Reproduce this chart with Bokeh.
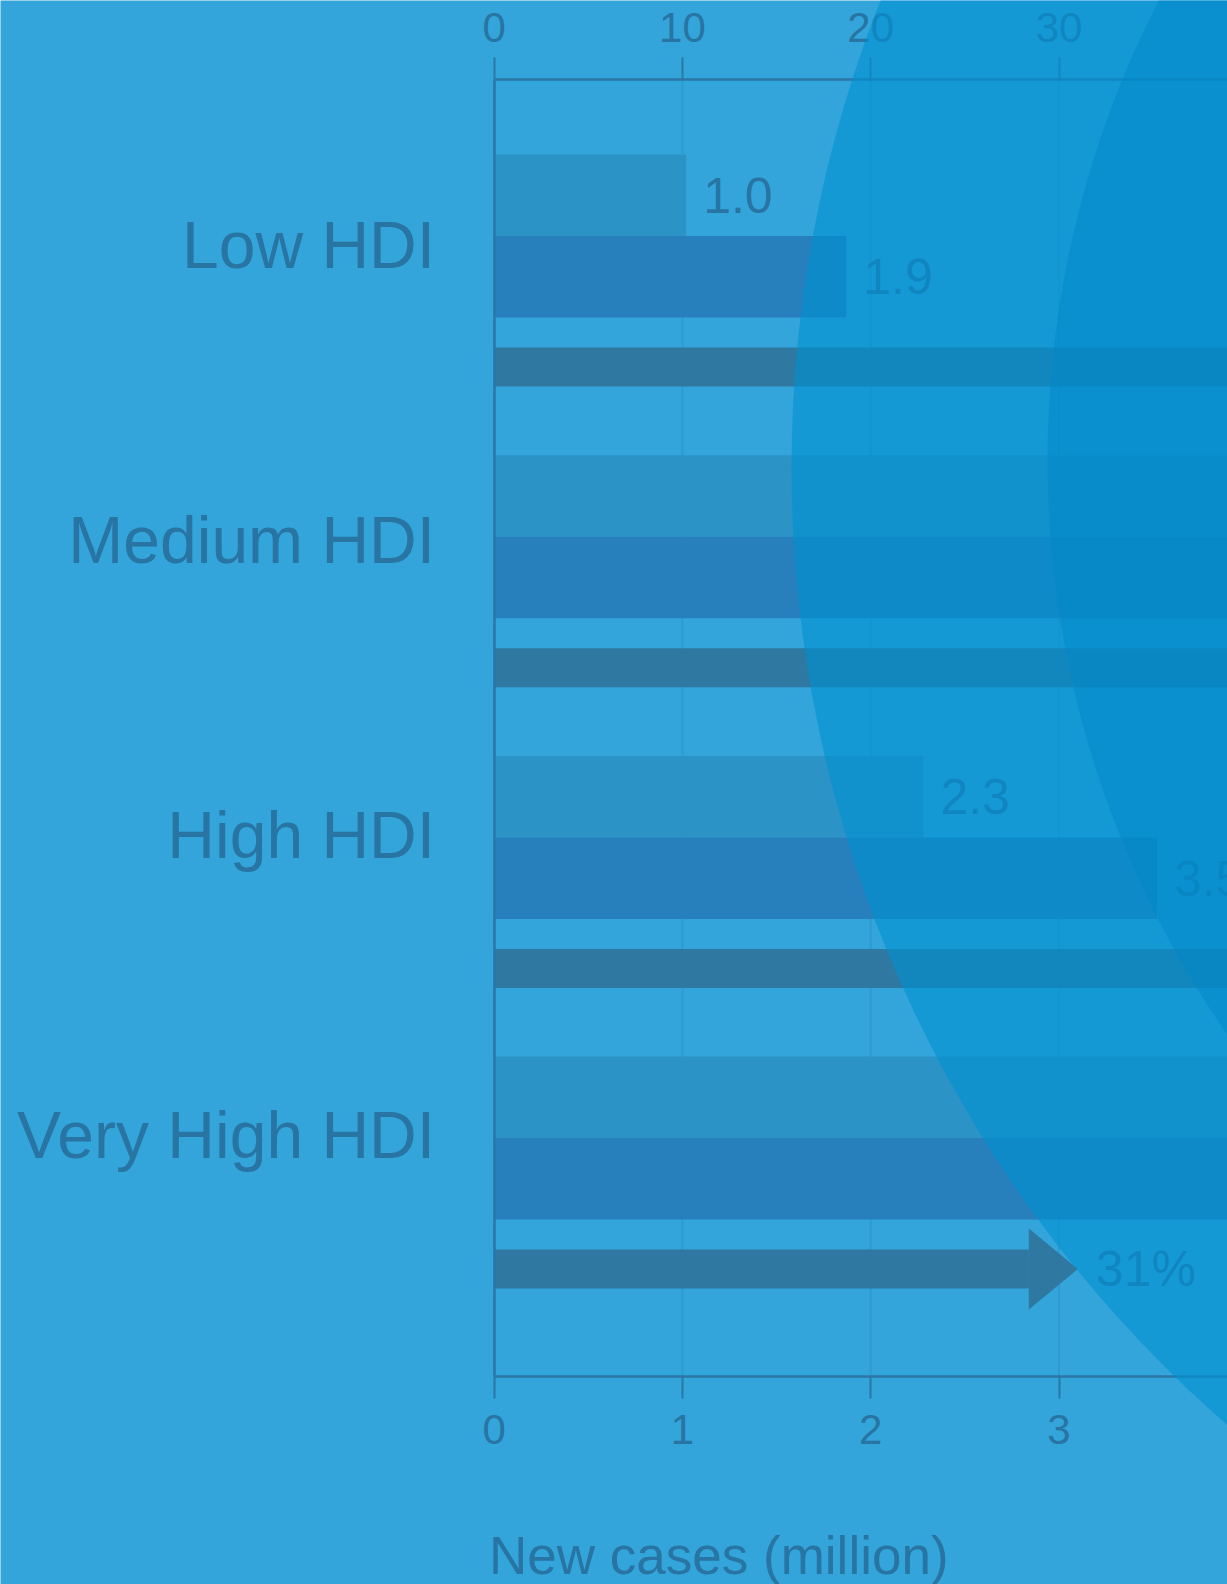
import math
from bokeh.plotting import figure
from bokeh.models import (Range1d, LinearAxis, FixedTicker, ColumnDataSource,
                          PolyAnnotation, Label)
from bokeh.core.properties import value
from bokeh.embed import file_html
from bokeh.resources import INLINE

# ---------------- data ----------------
categories = ["Low HDI", "Medium HDI", "High HDI", "Very High HDI"]
cases_2012 = [1.02, 4.7, 2.28, 5.9]     # million new cases (earlier year)
cases_2030 = [1.87, 8.0, 3.52, 7.7]     # million new cases (projection)
increase_pct = [83, 70, 54, 31]         # % increase (arrows, top axis)
case_ticks = [0, 1, 2, 3, 4, 5, 6, 7, 8]
pct_ticks = [0, 10, 20, 30, 40, 50, 60, 70, 80]
label_shift = [0.023, 0.003, -0.016, -0.018]   # fine vertical placement of category labels

# ---------------- style / layout ----------------
BG = "#33a5da"
LIGHT = "#2c93c6"
DARK = "#277fbc"
ARROW = "#2e78a1"
TEXT = "#2874a3"
AXIS = "#2b77a6"
GRID = "#2e9bd0"
FONT = "Liberation Sans"

W, H = 1227, 1584
X0 = 493.6          # canvas x of value 0
PX_X = 188.3        # px per million
Y0 = 238.0          # canvas y of first category centre
GROUP_PX = 300.7    # px per category group
AX_TOP_PX, AX_BOT_PX = 79.0, 1376.0


def dx(px):
    return (px - X0) / PX_X


def dy(py):
    return (py - Y0) / GROUP_PX


y_ax_top, y_ax_bot = dy(AX_TOP_PX), dy(AX_BOT_PX)

LIGHT_C, DARK_C, BAR_H = -0.1438, 0.1272, 0.271
ARROW_C, SHAFT_H, HEAD_HALF = 0.4273, 0.1297, 0.1347
HEAD_LEN = 49 / PX_X * 10  # in pct units

p = figure(width=W, height=H, x_range=Range1d(dx(0), dx(W)), y_range=Range1d(dy(H), dy(0)),
           output_backend="svg", toolbar_location=None,
           x_axis_location=None, y_axis_location=None,
           min_border=0, min_border_left=0, min_border_right=0, min_border_top=0,
           min_border_bottom=0, background_fill_color=BG,
           border_fill_color=BG, outline_line_color=None)
p.grid.visible = False
p.extra_x_ranges = {"pct": Range1d(dx(0) * 10, dx(W) * 10)}

# vertical grid lines between the two axes
p.segment(x0=case_ticks, x1=case_ticks, y0=[y_ax_top] * len(case_ticks),
          y1=[y_ax_bot] * len(case_ticks), line_color=GRID, line_width=2, level="underlay")

idx = list(range(len(categories)))
src = ColumnDataSource(dict(
    y_light=[i + LIGHT_C for i in idx], y_dark=[i + DARK_C for i in idx],
    y_arrow=[i + ARROW_C for i in idx],
    c1=cases_2012, c2=cases_2030, pct=increase_pct,
    shaft=[v - HEAD_LEN for v in increase_pct],
    t1=[f"{v:.1f}" for v in cases_2012], t2=[f"{v:.1f}" for v in cases_2030],
    tp=[f"{v}%" for v in increase_pct],
))

p.hbar(y="y_light", left=0, right="c1", height=BAR_H, source=src,
       fill_color=LIGHT, line_color=None)
p.hbar(y="y_dark", left=0, right="c2", height=BAR_H, source=src,
       fill_color=DARK, line_color=None)
p.hbar(y="y_arrow", left=0, right="shaft", height=SHAFT_H, source=src,
       fill_color=ARROW, line_color=None, x_range_name="pct")
head_xs = [[v - HEAD_LEN, v, v - HEAD_LEN] for v in increase_pct]
head_ys = [[i + ARROW_C - HEAD_HALF, i + ARROW_C, i + ARROW_C + HEAD_HALF] for i in idx]
p.patches(head_xs, head_ys, fill_color=ARROW, line_color=None, x_range_name="pct")

txt = dict(text_font=value(FONT), text_font_size="50px", text_color=TEXT,
           text_baseline="middle", text_align="left")
p.text(x="c1", y="y_light", text="t1", source=src, x_offset=17, **txt)
p.text(x="c2", y="y_dark", text="t2", source=src, x_offset=17, **txt)
p.text(x="pct", y="y_arrow", text="tp", source=src, x_offset=18,
       x_range_name="pct", **txt)

axis_style = dict(axis_line_color=AXIS, axis_line_width=2.5,
                  major_tick_line_color=AXIS, major_tick_line_width=2,
                  major_tick_in=0, major_tick_out=22, minor_tick_in=0, minor_tick_out=0,
                  major_label_text_font=FONT, major_label_text_font_size="42px",
                  major_label_text_color=TEXT, major_label_standoff=16)

xb = LinearAxis(ticker=FixedTicker(ticks=case_ticks), fixed_location=y_ax_bot,
                bounds=(0, 1000), **axis_style)
p.add_layout(xb, "below")
xt = LinearAxis(x_range_name="pct", ticker=FixedTicker(ticks=pct_ticks),
                fixed_location=y_ax_top, bounds=(0, 10000), **axis_style)
p.add_layout(xt, "above")

label_pos = [i + s for i, s in zip(idx, label_shift)]
yl = LinearAxis(ticker=FixedTicker(ticks=label_pos), fixed_location=0,
                bounds=(y_ax_top, y_ax_bot),
                major_label_overrides={pos: c for pos, c in zip(label_pos, categories)},
                axis_line_color=AXIS, axis_line_width=2.5,
                major_tick_in=0, major_tick_out=0, minor_tick_in=0, minor_tick_out=0,
                major_label_standoff=59, major_label_text_font=FONT,
                major_label_text_font_size="66px", major_label_text_color=TEXT)
p.add_layout(yl, "left")

p.add_layout(Label(x=0, y=dy(1555), text="New cases (million)", x_offset=-5,
                   text_font=FONT, text_font_size="53px", text_color=TEXT,
                   text_baseline="middle", text_align="left"))

# decorative translucent discs over the whole picture (canvas px -> data units)
def disc(cx, cy, r, n=240):
    xs, ys = [], []
    for k in range(n):
        a = 2 * math.pi * k / n
        xs.append(dx(cx + r * math.cos(a)))
        ys.append(dy(cy + r * math.sin(a)))
    return xs, ys


ox, oy = disc(2061, 467, 1270)
ix, iy = disc(2054, 460, 1007)
p.add_layout(PolyAnnotation(xs=ox, ys=oy, fill_color="#0091d2", fill_alpha=0.6,
                            line_color=None, level="overlay"))
p.add_layout(PolyAnnotation(xs=ix, ys=iy, fill_color="#0088c8", fill_alpha=0.5,
                            line_color=None, level="overlay"))

html = file_html(p, INLINE, title="New cases by HDI")
html = html.replace("<body>", '<body style="background:%s">' % BG, 1)
open("out.html", "w").write(html)
